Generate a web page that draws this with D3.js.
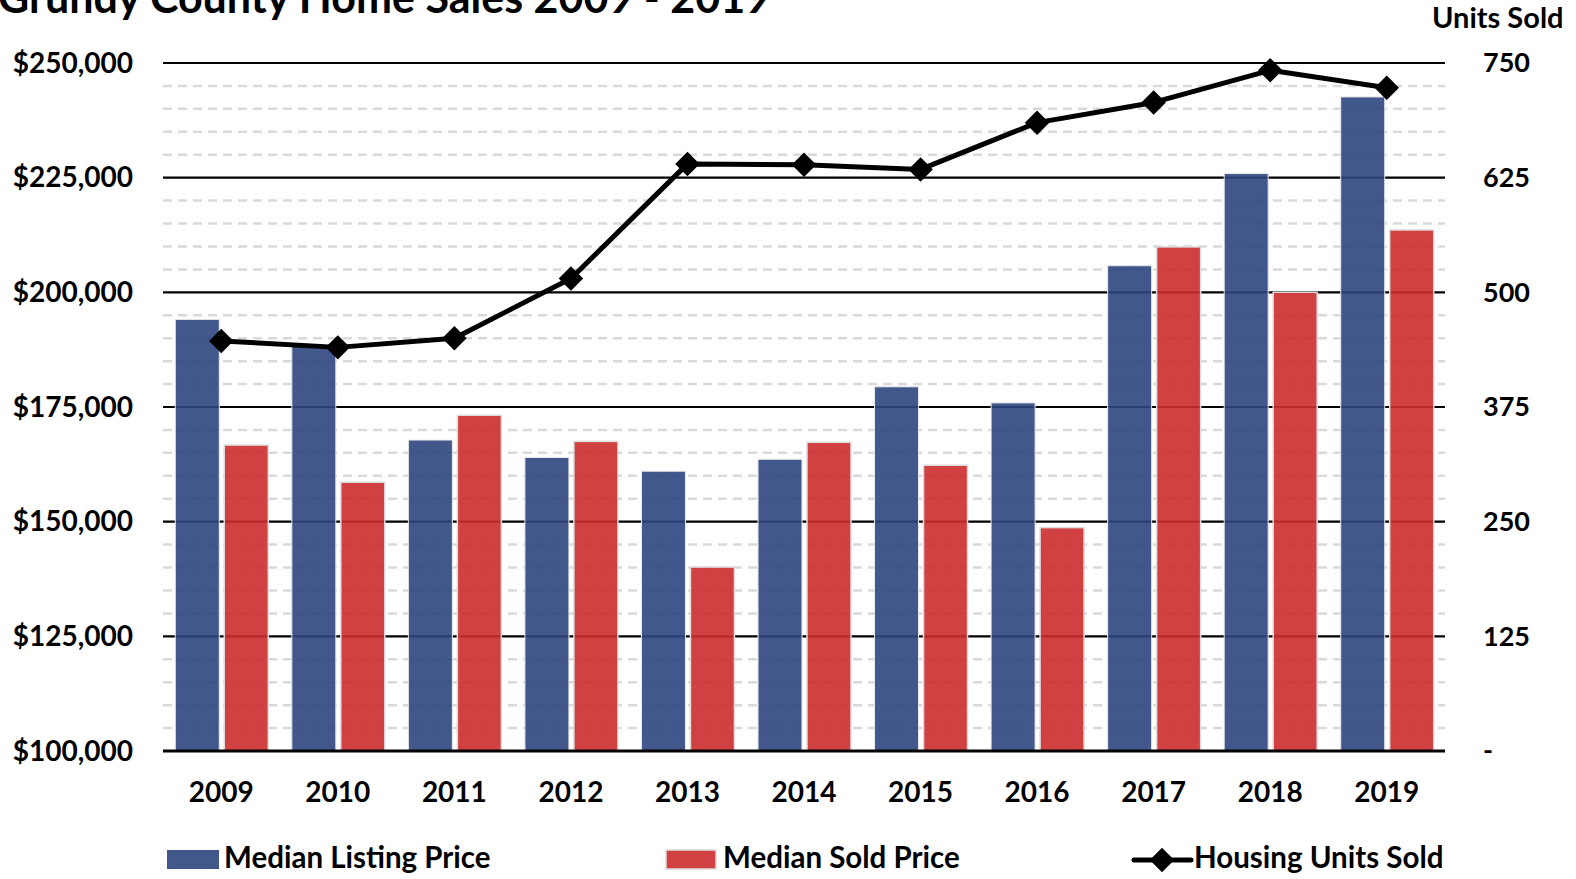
<!DOCTYPE html>
<html>
<head>
<meta charset="utf-8">
<script src="https://cdn.jsdelivr.net/npm/d3@7"></script>
<style>
  body { margin: 0; background: #fff; }
  svg { display: block; }
  text { font-family: Lato, "Open Sans", sans-serif; font-weight: bold; fill: #000; }
</style>
</head>
<body>
<div id="chart"></div>
<script>
const years = ["2009","2010","2011","2012","2013","2014","2015","2016","2017","2018","2019"];
const listingPrice = [194100, 188200, 167800, 164000, 161000, 163600, 179400, 175900, 205800, 225900, 242600];
const soldPrice = [166700, 158600, 173200, 167500, 140100, 167300, 162300, 148700, 209900, 200000, 213600];
const unitsSold = [447, 440, 450, 515, 640, 639, 634, 685, 707, 742, 723];
const priceTicks = [100000, 125000, 150000, 175000, 200000, 225000, 250000];
const unitTicks = [0, 125, 250, 375, 500, 625, 750];

const width = 1576, height = 879;
const plotLeft = 163, plotRight = 1445, plotTop = 63, plotBottom = 751;

const svg = d3.select("#chart").append("svg")
    .attr("width", width).attr("height", height);

const x = d3.scaleBand().domain(years).range([plotLeft, plotRight]);
const y = d3.scaleLinear().domain([100000, 250000]).range([plotBottom, plotTop]);
const y2 = d3.scaleLinear().domain([0, 750]).range([plotBottom, plotTop]);

// minor dashed grid
const minor = d3.range(100000, 250001, 5000).filter(v => v % 25000 !== 0);
svg.append("g").selectAll("line")
  .data(minor).enter().append("line")
    .attr("x1", plotLeft).attr("x2", plotRight)
    .attr("y1", d => y(d)).attr("y2", d => y(d))
    .attr("stroke", "#d9d9d9")
    .attr("stroke-width", 2.5)
    .attr("stroke-dasharray", "9,6");

// major grid
svg.append("g").selectAll("line")
  .data(priceTicks.slice(1)).enter().append("line")
    .attr("x1", plotLeft).attr("x2", plotRight)
    .attr("y1", d => y(d)).attr("y2", d => y(d))
    .attr("stroke", "#000")
    .attr("stroke-width", 2.2);

// bars
const bw = 44;
svg.append("g").selectAll("rect")
  .data(listingPrice).enter().append("rect")
    .attr("x", (d, i) => x(years[i]) + x.bandwidth() / 2 - bw - 2)
    .attr("y", d => y(d))
    .attr("width", bw)
    .attr("height", d => plotBottom - y(d))
    .attr("fill", "#2e4680")
    .attr("fill-opacity", 0.9)
    .attr("stroke", "#e8e8e8")
    .attr("stroke-width", 1);

svg.append("g").selectAll("rect")
  .data(soldPrice).enter().append("rect")
    .attr("x", (d, i) => x(years[i]) + x.bandwidth() / 2 + 3)
    .attr("y", d => y(d))
    .attr("width", bw)
    .attr("height", d => plotBottom - y(d))
    .attr("fill", "#cc2c2e")
    .attr("fill-opacity", 0.9)
    .attr("stroke", "#dcdcdc")
    .attr("stroke-width", 1.5);

// base axis line
svg.append("line")
    .attr("x1", plotLeft).attr("x2", plotRight)
    .attr("y1", plotBottom).attr("y2", plotBottom)
    .attr("stroke", "#000").attr("stroke-width", 3);

// units line
const line = d3.line()
    .x((d, i) => x(years[i]) + x.bandwidth() / 2)
    .y(d => y2(d));
svg.append("path")
    .datum(unitsSold)
    .attr("d", line)
    .attr("fill", "none")
    .attr("stroke", "#000")
    .attr("stroke-width", 5)
    .attr("stroke-linejoin", "round");

const diamond = d3.symbol().type(d3.symbolSquare).size(300);
svg.append("g").selectAll("path")
  .data(unitsSold).enter().append("path")
    .attr("d", diamond)
    .attr("transform", (d, i) => `translate(${x(years[i]) + x.bandwidth() / 2},${y2(d)}) rotate(45)`)
    .attr("fill", "#000");

// left axis labels
const fmt = d3.format("$,");
svg.append("g").selectAll("text")
  .data(priceTicks).enter().append("text")
    .attr("x", 133).attr("y", d => y(d))
    .attr("dy", "0.35em")
    .attr("text-anchor", "end")
    .style("font-size", "28px")
    .text(d => fmt(d));

// right axis labels
svg.append("g").selectAll("text")
  .data(unitTicks).enter().append("text")
    .attr("x", 1483).attr("y", d => y2(d))
    .attr("dy", "0.35em")
    .style("font-size", "27px")
    .text(d => d === 0 ? "-" : d);

svg.append("text")
    .attr("x", 1432).attr("y", 28)
    .style("font-size", "29px")
    .text("Units Sold");

// x labels
svg.append("g").selectAll("text")
  .data(years).enter().append("text")
    .attr("x", d => x(d) + x.bandwidth() / 2)
    .attr("y", 802)
    .attr("text-anchor", "middle")
    .style("font-size", "28px")
    .text(d => d);

// title (cut at top, as in the original)
svg.append("text")
    .attr("x", -2).attr("y", 13)
    .style("font-size", "43px")
    .text("Grundy County Home Sales 2009 - 2019");

// legend
const lg = svg.append("g");
lg.append("rect").attr("x", 167).attr("y", 850).attr("width", 52).attr("height", 19)
    .attr("fill", "#2e4680").attr("fill-opacity", 0.9);
lg.append("text").attr("x", 224).attr("y", 868).style("font-size", "29.5px").text("Median Listing Price");
lg.append("rect").attr("x", 666).attr("y", 850).attr("width", 50).attr("height", 19)
    .attr("fill", "#cc2c2e").attr("fill-opacity", 0.9)
    .attr("stroke", "#dcdcdc").attr("stroke-width", 1.5);
lg.append("text").attr("x", 723).attr("y", 868).style("font-size", "29.5px").text("Median Sold Price");
lg.append("line").attr("x1", 1134).attr("x2", 1191).attr("y1", 860).attr("y2", 860)
    .attr("stroke", "#000").attr("stroke-width", 5).attr("stroke-linecap", "round");
lg.append("path").attr("d", diamond).attr("transform", "translate(1162,860) rotate(45)").attr("fill", "#000");
lg.append("text").attr("x", 1194).attr("y", 868).style("font-size", "29.5px").text("Housing Units Sold");
</script>
</body>
</html>
